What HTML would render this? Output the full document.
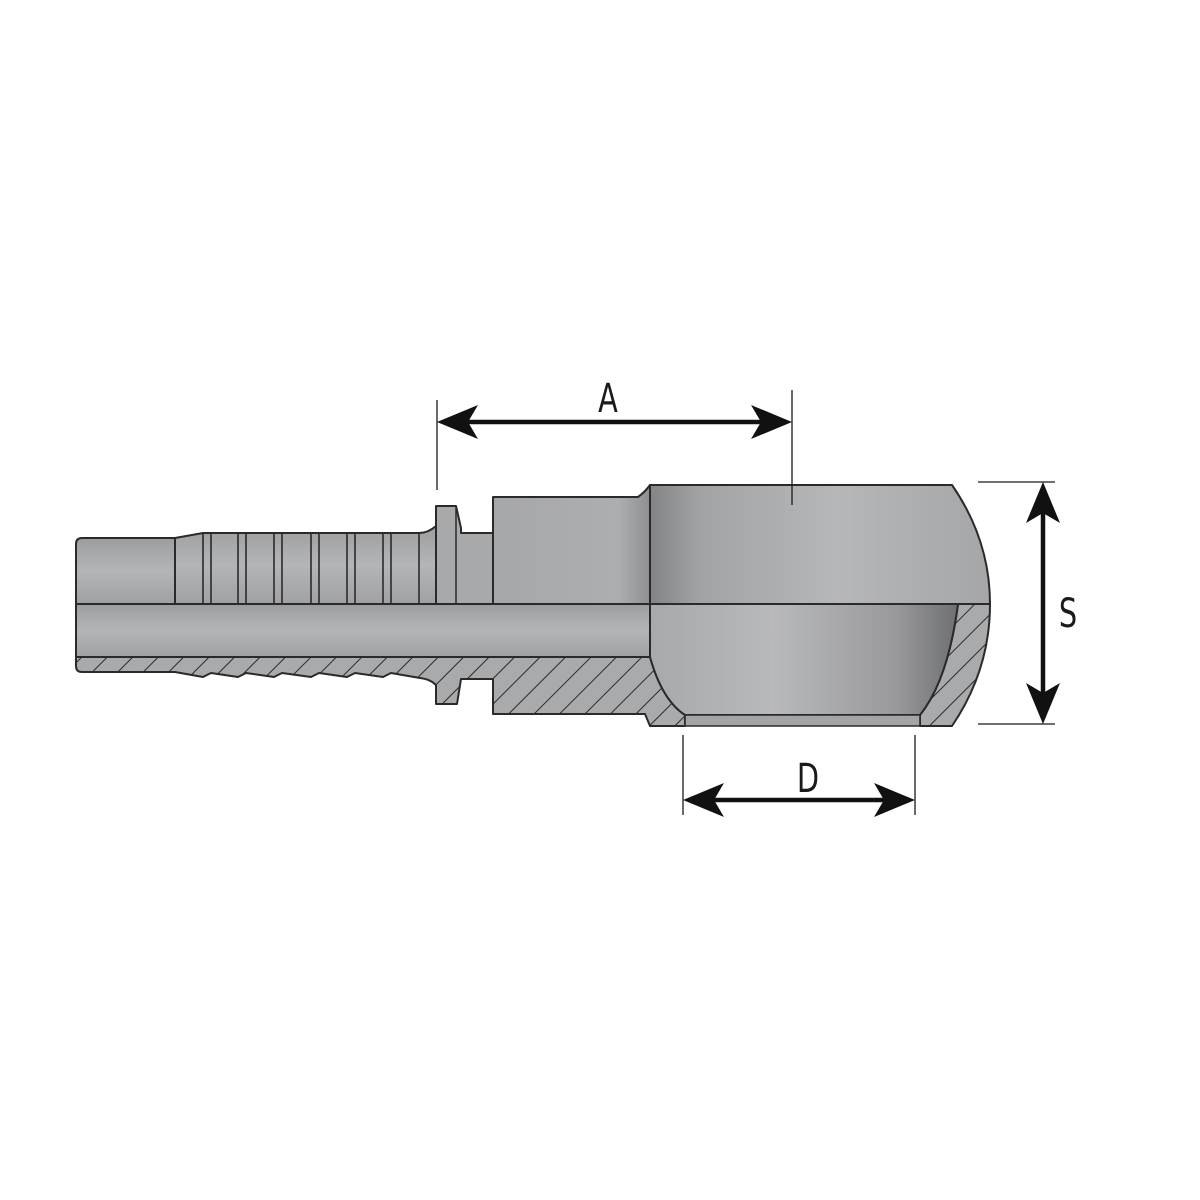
<!DOCTYPE html>
<html><head><meta charset="utf-8"><style>
html,body{margin:0;padding:0;background:#fff;}
svg{display:block;}
text{font-family:"DejaVu Sans Condensed","Liberation Sans",sans-serif;}
</style></head><body>
<svg width="1200" height="1200" viewBox="0 0 1200 1200" xmlns="http://www.w3.org/2000/svg">
<defs>
<pattern id="h" width="18" height="18" patternUnits="userSpaceOnUse" patternTransform="rotate(45)">
<rect width="18" height="18" fill="#a9aaac"/>
<line x1="0" y1="0" x2="0" y2="18" stroke="#2a2a2a" stroke-width="2"/>
</pattern>
<linearGradient id="tube" x1="0" y1="0" x2="0" y2="1">
<stop offset="0" stop-color="#9c9d9f"/><stop offset="0.5" stop-color="#b4b5b7"/><stop offset="1" stop-color="#a0a1a3"/>
</linearGradient>
<linearGradient id="eyeTop" x1="0" y1="0" x2="1" y2="0">
<stop offset="0" stop-color="#838486"/><stop offset="0.15" stop-color="#a2a3a5"/><stop offset="0.55" stop-color="#b6b7b9"/><stop offset="1" stop-color="#a5a6a8"/>
</linearGradient>
<linearGradient id="bore" x1="0" y1="0" x2="1" y2="0">
<stop offset="0" stop-color="#a8a9ab"/><stop offset="0.4" stop-color="#b8b9bb"/><stop offset="0.8" stop-color="#99999b"/><stop offset="1" stop-color="#6e6f71"/>
</linearGradient>
<linearGradient id="body" x1="0" y1="0" x2="1" y2="0">
<stop offset="0" stop-color="#a6a7a9"/><stop offset="0.8" stop-color="#adaeb0"/><stop offset="1" stop-color="#8e8f91"/>
</linearGradient>
</defs>

<g stroke="#2a2a2a" stroke-width="2" stroke-linejoin="round">
<path d="M76,604 L76,544 Q76,538 82,538 L175,538 L175,604 Z" fill="url(#tube)"/>
<path d="M175,604 L175,538 L203,533 L419,533 Q428,533 436,526 L436,604 Z" fill="url(#tube)"/>
<g fill="none" stroke-width="1.6">
<line x1="203" y1="533" x2="203" y2="604"/><line x1="211" y1="533" x2="211" y2="604"/>
<line x1="238" y1="533" x2="238" y2="604"/><line x1="246" y1="533" x2="246" y2="604"/>
<line x1="274" y1="533" x2="274" y2="604"/><line x1="282" y1="533" x2="282" y2="604"/>
<line x1="311" y1="533" x2="311" y2="604"/><line x1="319" y1="533" x2="319" y2="604"/>
<line x1="347" y1="533" x2="347" y2="604"/><line x1="355" y1="533" x2="355" y2="604"/>
<line x1="383" y1="533" x2="383" y2="604"/><line x1="391" y1="533" x2="391" y2="604"/>
<line x1="419" y1="533" x2="419" y2="604"/>
</g>
<path d="M436,604 L436,506 L456,506 L461,528 L461,533 L493,533 L493,604 Z" fill="#a8a9ab"/>
<line x1="456" y1="506" x2="456" y2="604" stroke-width="1.5"/>
<path d="M493,604 L493,497 L638,497 Q645,492 650,485 L650,604 Z" fill="url(#body)"/>
<path d="M650,604 L650,485 L952,485 Q990,540 990,604 Z" fill="url(#eyeTop)"/>
<rect x="76" y="604" width="574" height="53" fill="url(#tube)"/>
<path d="M76,657 L650,657 Q662,700 685,715 L685,726 L650,726 L645,714 L493,714 L493,679 L461,679 L457,704 L436,704 L436,685 Q430,679 420,678 L391,673 L383,677 L355,673 L347,677 L319,673 L311,677 L282,673 L274,677 L246,673 L238,677 L211,673 L203,677 L175,672 L82,672 Q76,672 76,666 Z" fill="url(#h)"/>
<path d="M990,604 Q990,670 952,726 L920,726 L920,715 Q948,680 958,604 Z" fill="url(#h)"/>
<path d="M650,604 L958,604 Q948,680 920,715 L685,715 Q662,700 650,657 Z" fill="url(#bore)"/>
<rect x="685" y="715" width="235" height="11" fill="#a3a4a6" stroke-width="1.6"/>
<path d="M650,657 L650,604" fill="none"/>
<line x1="76" y1="604" x2="990" y2="604"/>
</g>

<g stroke="#1a1a1a" stroke-width="1.3" fill="none">
<line x1="437" y1="400" x2="437" y2="490"/>
<line x1="792" y1="390" x2="792" y2="505"/>
<line x1="978" y1="482" x2="1055" y2="482"/>
<line x1="978" y1="724" x2="1055" y2="724"/>
<line x1="683" y1="735" x2="683" y2="815"/>
<line x1="915" y1="735" x2="915" y2="815"/>
</g>
<g stroke="#111" stroke-width="4.5">
<line x1="460" y1="422" x2="770" y2="422"/>
<line x1="1043" y1="505" x2="1043" y2="700"/>
<line x1="705" y1="800" x2="893" y2="800"/>
</g>
<g fill="#111">
<path d="M437,422 L478,405 L468,422 L478,439 Z"/>
<path d="M792,422 L751,405 L761,422 L751,439 Z"/>
<path d="M1043,482 L1026,523 L1043,513 L1060,523 Z"/>
<path d="M1043,724 L1026,683 L1043,693 L1060,683 Z"/>
<path d="M683,800 L724,783 L714,800 L724,817 Z"/>
<path d="M915,800 L874,783 L884,800 L874,817 Z"/>
</g>
<g fill="#1a1a1a" font-size="40" text-anchor="middle">
<text transform="translate(608,412) scale(0.8,1)">A</text>
<text transform="translate(1068,627) scale(0.8,1)">S</text>
<text transform="translate(808,792) scale(0.8,1)">D</text>
</g>
</svg>
</body></html>
